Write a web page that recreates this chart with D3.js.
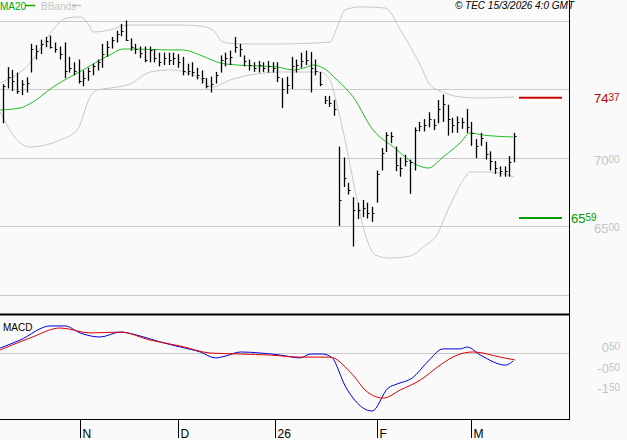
<!DOCTYPE html>
<html><head><meta charset="utf-8">
<script src="https://cdn.jsdelivr.net/npm/d3@7/dist/d3.min.js"></script>
<style>body{margin:0;background:#fafafa}svg{display:block;font-family:"Liberation Sans",Arial,sans-serif}</style>
</head><body>
<svg id="chart" width="627" height="440"></svg>
<script>
// daily bars: high / low / close
const highs = [7535,7660,7640,7620,7565,7585,7830,7820,7860,7880,7890,7840,7810,7840,7735,7695,7715,7635,7655,7685,7715,7830,7850,7880,7925,7975,8000,7870,7830,7810,7810,7810,7790,7765,7765,7765,7765,7755,7735,7685,7695,7655,7635,7580,7590,7625,7745,7765,7780,7880,7830,7745,7715,7695,7705,7695,7705,7695,7695,7580,7590,7735,7715,7765,7780,7770,7715,7625,7450,7450,7420,7080,7000,6815,6710,6670,6690,6670,6640,6905,7070,7185,7185,7080,7000,7020,6985,7220,7260,7280,7330,7280,7420,7460,7385,7290,7300,7290,7355,7260,7135,7180,7115,7045,6975,6935,6935,7010,7180];
const lows = [7250,7505,7485,7465,7455,7475,7620,7715,7755,7805,7795,7765,7715,7580,7620,7600,7540,7520,7560,7600,7635,7655,7735,7795,7840,7885,7850,7780,7755,7725,7695,7695,7695,7665,7675,7675,7675,7655,7600,7600,7590,7570,7540,7505,7475,7540,7620,7665,7675,7765,7735,7665,7635,7625,7620,7625,7620,7620,7550,7360,7465,7500,7620,7655,7675,7475,7600,7520,7390,7370,7305,6500,6785,6730,6350,6550,6565,6555,6530,6670,6905,7040,7105,6900,6860,6935,6735,6905,7190,7190,7220,7200,7250,7260,7160,7180,7180,7210,7180,7085,6995,7085,6985,6905,6880,6860,6860,6860,6965];
const closes = [7520,7590,7555,7485,7535,7545,7790,7775,7830,7850,7810,7790,7755,7635,7655,7635,7560,7580,7635,7665,7695,7755,7810,7860,7900,7925,7860,7810,7790,7765,7715,7785,7725,7695,7725,7715,7725,7695,7635,7635,7625,7600,7580,7525,7540,7600,7715,7725,7735,7810,7790,7705,7675,7655,7675,7655,7665,7655,7590,7500,7530,7665,7675,7705,7715,7655,7635,7540,7420,7400,7355,6690,6850,6765,6615,6615,6630,6595,6595,6880,7030,7165,7155,6945,6925,6975,6965,7200,7230,7240,7280,7240,7355,7390,7280,7240,7260,7260,7220,7180,7085,7140,7025,6975,6925,6900,6900,6965,7160];

// indicator samples (bar index, value)
const maIdx = [-0.6,3.6,6.3,10.6,16.9,22.6,25.4,27.5,35.3,38.1,41.6,45.9,49.5,57.9,61.3,64.3,65.5,67.7,70.6,74,78.2,82.5,87.5,89.9,93,96.6,98.7,101.5,107.8];
const maVal = [7347,7361,7405,7515,7639,7749,7792,7792,7785,7785,7748,7690,7675,7661,7639,7661,7675,7653,7566,7442,7201,7077,6945,6923,7004,7106,7179,7164,7150];
const upIdx = [-0.6,6.3,10,13.5,16.3,18.4,19,22.6,26.2,37.4,41.6,44.4,46.5,50.1,58.6,69.1,70.8,72.3,75.5,80.8,84,88.2,90.3,93.5,96.6,100.9,108];
const upVal = [7544,7712,7909,8018,8026,7953,7916,7931,7967,7967,7960,7931,7843,7829,7829,7843,7967,8077,8099,8091,7931,7675,7529,7471,7442,7434,7442];
const loIdx = [-0.6,2.6,5.7,8.9,12.1,15.7,18.4,19.9,22.6,26.9,31.1,35.3,41.6,44.4,48,52.2,58.6,67,69.1,70.6,72.3,74.4,76.6,78.7,81.9,86.1,89.3,91.4,94.5,97.3,98.8,103,108];
const loVal = [7332,7142,7077,7091,7128,7201,7442,7493,7507,7537,7624,7639,7580,7515,7566,7602,7624,7624,7566,7383,7128,6763,6434,6288,6266,6281,6361,6419,6653,6836,6894,6894,6858];
const macdIdx = [-0.6,3.6,10,13.1,16.3,20.5,24.8,29,33.2,37.5,41.7,44.9,47,50.2,54.4,58.6,62.8,65,67.5,69.6,70.9,71.9,74,78,81.4,83.3,86.5,89.7,93,96.6,98.1,100.9,106.2,107.8];
const macdVal = [0.74,1.13,1.82,1.82,1.48,1.28,1.52,1.33,1.04,0.79,0.55,0.26,0.35,0.55,0.5,0.40,0.26,0.45,0.45,0.26,-0.33,-0.91,-1.70,-2.33,-1.21,-1.01,-0.72,0.06,0.70,0.70,0.79,0.40,-0.09,0.11];
const sigIdx = [-0.6,5.7,12.1,18.4,24.8,31.1,37.5,43.8,50.2,56.5,62.8,69.1,73.4,77,80.4,84,88.2,92.4,96,99.4,105.1,108.2];
const sigVal = [0.65,1.23,1.72,1.48,1.52,1.13,0.84,0.5,0.45,0.40,0.30,0.30,-0.43,-1.40,-1.70,-1.30,-0.82,-0.09,0.40,0.55,0.30,0.16];

const monthIdx = [16.3,37,57.5,79,99];
const monthLabels = ["N","D","26","F","M"];
const priceTicks = [8000,7500,7000,6500,6000];
const priceLabels = [7500,7000,6500];
const macdTicks = [0.5,-0.5,-1.5];
const resistance = 7437, support = 6559;

const svg = d3.select("#chart");
const W = 569;
const x = d3.scaleLinear().domain([0, closes.length - 1]).range([3, 514]);
const y = d3.scaleLinear().domain([6500, 7500]).range([226, 89]);
const ym = d3.scaleLinear().domain([-0.5, 0.5]).range([373.5, 353]);

svg.append("rect").attr("width",627).attr("height",440).attr("fill","#fafafa");
svg.append("clipPath").attr("id","cp").append("rect").attr("width",W).attr("height",313);
svg.append("clipPath").attr("id","cm").append("rect").attr("y",316).attr("width",W).attr("height",103);

// grid
svg.selectAll(".gp").data(priceTicks).join("line")
  .attr("x1",0).attr("x2",W).attr("y1",d=>Math.round(y(d))+0.5).attr("y2",d=>Math.round(y(d))+0.5)
  .attr("stroke","#c8c8c8");
svg.append("line").attr("x1",0).attr("x2",W).attr("y1",Math.round(ym(0.5))+0.5).attr("y2",Math.round(ym(0.5))+0.5).attr("stroke","#c8c8c8");

function numLabel(g, v) {
  const s = String(v);
  const t = g.append("text");
  t.append("tspan").text(s.slice(0, s.length-2)).attr("font-size",13);
  t.append("tspan").text(s.slice(-2)).attr("font-size",10).attr("dy",-2);
  return t;
}
priceLabels.forEach(v => {
  if (v === 7500) return; // hidden behind resistance label
  numLabel(svg, v).attr("x",594).attr("y",y(v)+7).attr("fill","#c4c4c4");
});
macdTicks.forEach(v => {
  const s = v.toFixed(2).replace(".","");
  const t = svg.append("text").attr("y",ym(v)-1).attr("fill","#c4c4c4").attr("text-anchor","end").attr("x",620);
  t.append("tspan").text(s.slice(0,s.length-2)).attr("font-size",13);
  t.append("tspan").text(s.slice(-2)).attr("font-size",10).attr("dy",-2);
});

const gp = svg.append("g").attr("clip-path","url(#cp)");
const lineOf = (idx, val, sc) => d3.line().x((d,i)=>x(idx[i])).y((d,i)=>sc(val[i])).curve(d3.curveMonotoneX)(val);
gp.append("path").attr("d",lineOf(upIdx,upVal,y)).attr("fill","none").attr("stroke","#c8c8c8");
gp.append("path").attr("d",lineOf(loIdx,loVal,y)).attr("fill","none").attr("stroke","#c8c8c8");
gp.append("path").attr("d",lineOf(maIdx,maVal,y)).attr("fill","none").attr("stroke","#1fc01f");

const bars = gp.selectAll(".bar").data(closes).join("g");
bars.append("line").attr("x1",(d,i)=>Math.round(x(i))+0.5).attr("x2",(d,i)=>Math.round(x(i))+0.5)
  .attr("y1",(d,i)=>y(highs[i])).attr("y2",(d,i)=>y(lows[i])).attr("stroke","#000").attr("stroke-width",1.3);
bars.append("line").attr("x1",(d,i)=>Math.round(x(i))+0.5).attr("x2",(d,i)=>Math.round(x(i))+2.5)
  .attr("y1",d=>Math.round(y(d))+0.5).attr("y2",d=>Math.round(y(d))+0.5).attr("stroke","#000");

// support / resistance
svg.append("line").attr("x1",519).attr("x2",562).attr("y1",y(resistance)).attr("y2",y(resistance)).attr("stroke","#cc0000").attr("stroke-width",2);
svg.append("line").attr("x1",519).attr("x2",562).attr("y1",y(support)).attr("y2",y(support)).attr("stroke","#009900").attr("stroke-width",2);
numLabel(svg, resistance).attr("x",594).attr("y",y(resistance)+5).attr("fill","#cc0000");
numLabel(svg, support).attr("x",571).attr("y",y(support)+5).attr("fill","#009900");

// macd
const gm = svg.append("g").attr("clip-path","url(#cm)");
gm.append("path").attr("d",lineOf(macdIdx,macdVal,ym)).attr("fill","none").attr("stroke","#0000dd");
gm.append("path").attr("d",lineOf(sigIdx,sigVal,ym)).attr("fill","none").attr("stroke","#dd0000");

// frames
svg.append("line").attr("x1",W+0.5).attr("x2",W+0.5).attr("y1",0).attr("y2",420).attr("stroke","#000");
svg.append("line").attr("x1",0).attr("x2",W).attr("y1",314.5).attr("y2",314.5).attr("stroke","#000").attr("stroke-width",2);
svg.append("line").attr("x1",0).attr("x2",W+1).attr("y1",419.5).attr("y2",419.5).attr("stroke","#000");

// x axis
monthIdx.forEach((m,i)=>{
  const xx = Math.round(x(m))+0.5;
  svg.append("line").attr("x1",xx).attr("x2",xx).attr("y1",420).attr("y2",438).attr("stroke","#000");
  svg.append("text").attr("x",xx+2).attr("y",438).attr("font-size",12).text(monthLabels[i]);
});

// legend / titles
svg.append("text").attr("x",0).attr("y",10).attr("font-size",10).attr("fill","#00aa00").text("MA20");
svg.append("line").attr("x1",25).attr("x2",35).attr("y1",5.5).attr("y2",5.5).attr("stroke","#00aa00").attr("stroke-width",1.5);
svg.append("text").attr("x",41).attr("y",10).attr("font-size",10).attr("fill","#c4c4c4").text("BBands");
svg.append("line").attr("x1",72).attr("x2",81).attr("y1",5.5).attr("y2",5.5).attr("stroke","#c4c4c4").attr("stroke-width",1.5);
svg.append("text").attr("x",3).attr("y",331).attr("font-size",10).text("MACD");
svg.append("text").attr("x",574).attr("y",9).attr("font-size",10).attr("font-style","italic").attr("text-anchor","end").text("© TEC 15/3/2026 4:0 GMT");
</script>
</body></html>
